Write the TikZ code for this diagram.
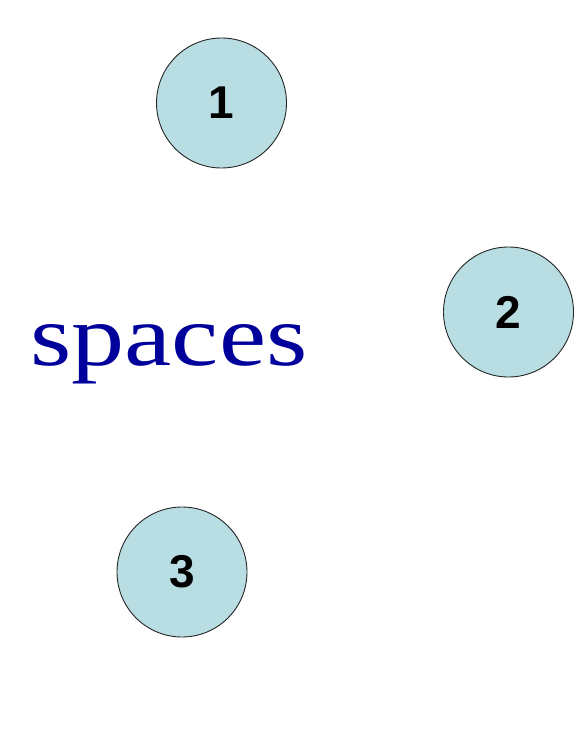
\documentclass[tikz,border=0pt]{standalone}
\usepackage{fontspec}
\setmainfont{Liberation Serif}
\newfontfamily\numfont{Liberation Sans}
\definecolor{ballfill}{RGB}{184,221,226}
\definecolor{wordblue}{RGB}{0,0,155}
\begin{document}
\begin{tikzpicture}[x=1pt,y=-1pt,
  ball/.style={circle,draw=black!85,line width=0.9pt,fill=ballfill,minimum size=130pt,inner sep=0pt,font=\numfont\bfseries\fontsize{46}{46}\selectfont},
  word/.style={text=wordblue,inner sep=0pt,font=\fontsize{87}{87}\selectfont}]
\useasboundingbox (0,0) rectangle (578,735);
\fill[white] (0,0) rectangle (578,735);
\node[ball] (n1) at (221.5,103) {1};
\node[ball] (n2) at (508.5,312) {2};
\node[ball] (n3) at (182,572) {3};
\node[word,xscale=1.22,anchor=base] (w) at (169,365) {spaces};
\end{tikzpicture}
\end{document}
